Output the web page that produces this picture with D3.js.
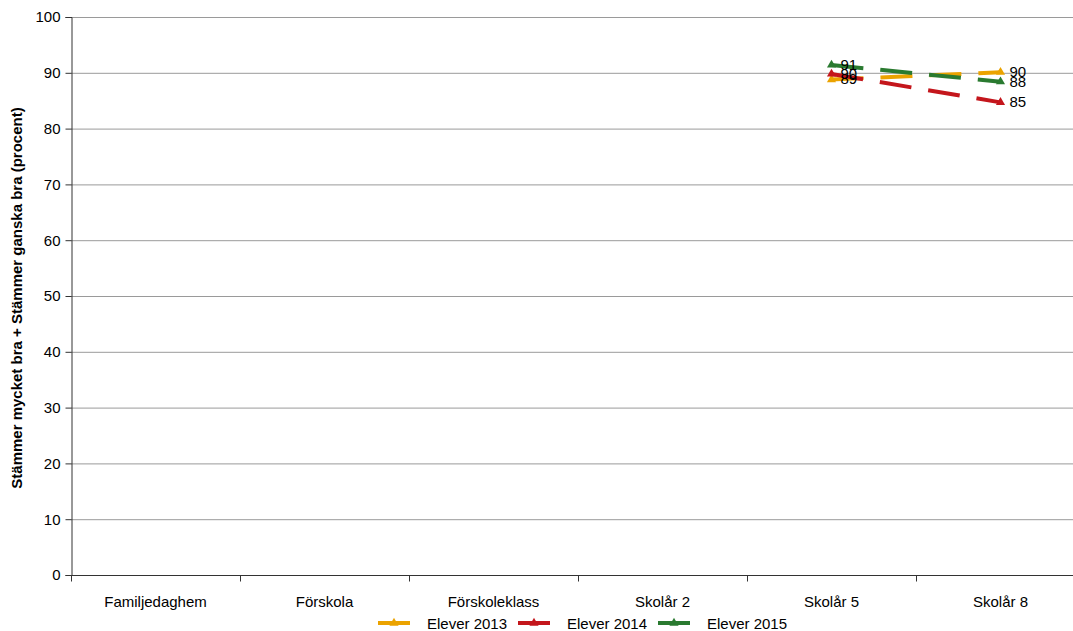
<!DOCTYPE html>
<html><head><meta charset="utf-8">
<script src="https://cdn.jsdelivr.net/npm/d3@7"></script>
<style>body{margin:0;background:#fff;} svg{display:block;font-family:"Liberation Sans",Arial,sans-serif;}</style>
</head><body>
<script>
const categories = ["Familjedaghem","Förskola","Förskoleklass","Skolår 2","Skolår 5","Skolår 8"];
const seriesNames = ["Elever 2013","Elever 2014","Elever 2015"];
const elever2013 = [null,null,null,null,88.8,90.1];
const elever2014 = [null,null,null,null,89.8,84.7];
const elever2015 = [null,null,null,null,91.4,88.4];
const yTicks = [0,10,20,30,40,50,60,70,80,90,100];
const colors = ["#EBA300","#C4161C","#2A7A30"];
const yTitle = "Stämmer mycket bra + Stämmer ganska bra (procent)";

const W=1073,H=631;
const m={left:71,top:17,bottom:56};
const plotW=1014, plotH=558;
const FS=15;
const svg=d3.select("body").append("svg").attr("width",W).attr("height",H);
const g=svg.append("g").attr("transform",`translate(${m.left},${m.top})`);
const x=d3.scaleBand().domain(categories).range([0,plotW]);
const y=d3.scaleLinear().domain([0,100]).range([plotH,0]);

// grid
g.selectAll(".grid").data(yTicks.filter(d=>d>0)).enter().append("line")
 .attr("x1",0).attr("x2",plotW).attr("y1",d=>y(d)+0.5).attr("y2",d=>y(d)+0.5)
 .attr("stroke","#9a9a9a").attr("stroke-width",1);

// y axis
const ya=g.append("g").attr("transform","translate(0.5,0)").call(d3.axisLeft(y).tickValues(yTicks).tickSize(6).tickPadding(5));
ya.select(".domain").attr("stroke","#333");
ya.selectAll(".tick line").attr("stroke","#333");
ya.selectAll("text").attr("font-size",FS).attr("fill","#000").attr("font-family","Liberation Sans, Arial, sans-serif");

// x axis
const xa=g.append("g").attr("transform",`translate(0,${plotH+0.5})`);
xa.append("line").attr("x1",0).attr("x2",plotW).attr("stroke","#333");
xa.selectAll(".xt").data(d3.range(categories.length+1)).enter().append("line")
 .attr("x1",i=>Math.round(i*x.bandwidth())+0.5).attr("x2",i=>Math.round(i*x.bandwidth())+0.5)
 .attr("y1",0).attr("y2",6).attr("stroke","#333");
xa.selectAll(".xl").data(categories).enter().append("text")
 .attr("x",d=>x(d)+x.bandwidth()/2).attr("y",31).attr("text-anchor","middle")
 .attr("font-size",FS).text(d=>d);

// y title
svg.append("text").attr("transform","translate(22,298) rotate(-90)").attr("text-anchor","middle")
 .attr("font-size",FS).attr("font-weight","bold").text(yTitle);

const data=[elever2013,elever2014,elever2015];
const tri=d3.symbol().type(d3.symbolTriangle).size(36);
data.forEach((vals,si)=>{
  const pts=vals.map((v,i)=>({v,c:categories[i]})).filter(d=>d.v!=null);
  const line=d3.line().x(d=>x(d.c)+x.bandwidth()/2).y(d=>y(d.v));
  g.append("path").datum(pts).attr("d",line).attr("fill","none")
   .attr("stroke",colors[si]).attr("stroke-width",4).attr("stroke-dasharray","32,17");
  g.selectAll(null).data(pts).enter().append("path").attr("d",tri)
   .attr("transform",d=>`translate(${x(d.c)+x.bandwidth()/2},${y(d.v)})`).attr("fill",colors[si]);
});
data.forEach((vals,si)=>{
  const pts=vals.map((v,i)=>({v,c:categories[i]})).filter(d=>d.v!=null);
  g.selectAll(null).data(pts).enter().append("text")
   .attr("x",d=>x(d.c)+x.bandwidth()/2+9).attr("y",d=>y(d.v)+5)
   .attr("font-size",FS).text(d=>Math.round(d.v));
});

// legend
const lg=svg.append("g").attr("transform","translate(0,623)");
const lx=[378,518,658];
seriesNames.forEach((n,i)=>{
  lg.append("line").attr("x1",lx[i]).attr("x2",lx[i]+32).attr("y1",0).attr("y2",0)
   .attr("stroke",colors[i]).attr("stroke-width",4);
  lg.append("path").attr("d",tri).attr("transform",`translate(${lx[i]+16},0)`).attr("fill",colors[i]);
  lg.append("text").attr("x",lx[i]+49).attr("y",6).attr("font-size",FS).text(n);
});
</script>
</body></html>
